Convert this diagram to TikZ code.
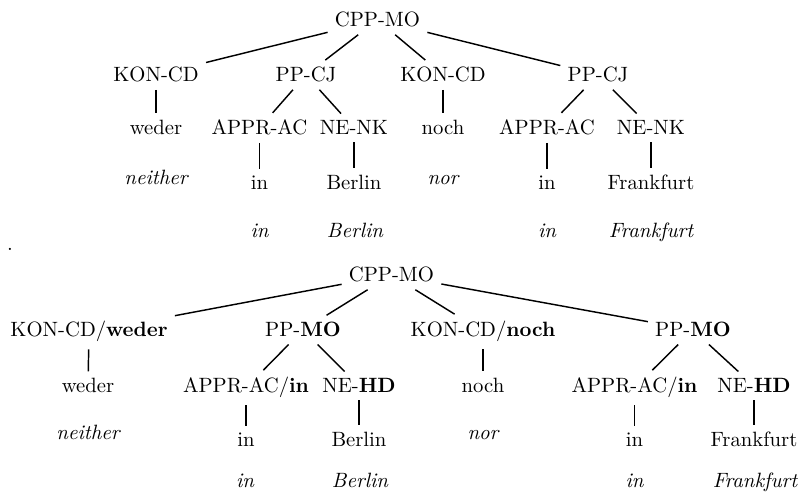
\documentclass[tikz,border=0pt]{standalone}
\begin{document}
\begin{tikzpicture}[x=0.483pt,y=-0.483pt,
  lbl/.style={anchor=base, inner sep=3.33pt},
  gl/.style={anchor=base, inner sep=3.33pt, font=\itshape},
  edge/.style={line width=0.7pt}]
\useasboundingbox (0,0) rectangle (799,496);
% ---------- top tree ----------
\node[lbl] (r) at (377.5,27) {CPP-MO};
\node[lbl] (k1) at (156,82) {KON-CD};
\node[lbl] (p1) at (306,82) {PP-CJ};
\node[lbl] (k2) at (443,82) {KON-CD};
\node[lbl] (p2) at (598,82) {PP-CJ};
\node[lbl] (w) at (156,135) {weder};
\node[lbl] (a1) at (259.5,135) {APPR-AC};
\node[lbl] (n1) at (354,135) {NE-NK};
\node[lbl] (no) at (443,135) {noch};
\node[lbl] (a2) at (547,135) {APPR-AC};
\node[lbl] (n2) at (651,135) {NE-NK};
\node[gl] (gw) at (156,185) {neither};
\node[lbl] (i1) at (259.5,190) {in};
\node[lbl] (b1) at (354,190) {Berlin};
\node[gl] (gn) at (443,185) {nor};
\node[lbl] (i2) at (547,190) {in};
\node[lbl] (f2) at (651,190) {Frankfurt};
\node[gl] (gi1) at (259.5,238) {in};
\node[gl] (gb1) at (355,238) {Berlin};
\node[gl] (gi2) at (547,238) {in};
\node[gl] (gf2) at (651,238) {Frankfurt};
\foreach \a/\b in {r/k1,r/p1,r/k2,r/p2,k1/w,p1/a1,p1/n1,k2/no,p2/a2,p2/n2,a1/i1,n1/b1,a2/i2,n2/f2}
  \draw[edge] (\a) -- (\b);
% separator dot
\node[lbl] (dot) at (10,251) {.};
% ---------- bottom tree ----------
\node[lbl] (R) at (391.5,282) {CPP-MO};
\node[lbl] (K1) at (89,337) {KON-CD/\textbf{weder}};
\node[lbl] (P1) at (303,337) {PP-\textbf{MO}};
\node[lbl] (K2) at (483,337) {KON-CD/\textbf{noch}};
\node[lbl] (P2) at (693,337) {PP-\textbf{MO}};
\node[lbl] (W) at (88,393) {weder};
\node[lbl] (A1) at (246,393) {APPR-AC/\textbf{in}};
\node[lbl] (N1) at (359,393) {NE-\textbf{HD}};
\node[lbl] (NO) at (483,393) {noch};
\node[lbl] (A2) at (634.5,393) {APPR-AC/\textbf{in}};
\node[lbl] (N2) at (754,393) {NE-\textbf{HD}};
\node[gl] (GW) at (88,440) {neither};
\node[lbl] (I1) at (246,447) {in};
\node[lbl] (B1) at (359,447) {Berlin};
\node[gl] (GN) at (483,440) {nor};
\node[lbl] (I2) at (634.5,447) {in};
\node[lbl] (F2) at (754,447) {Frankfurt};
\node[gl] (GI1) at (245,488) {in};
\node[gl] (GB1) at (360,488) {Berlin};
\node[gl] (GI2) at (634.5,488) {in};
\node[gl] (GF2) at (755,488) {Frankfurt};
\foreach \a/\b in {R/K1,R/P1,R/K2,R/P2,K1/W,P1/A1,P1/N1,K2/NO,P2/A2,P2/N2,A1/I1,N1/B1,A2/I2,N2/F2}
  \draw[edge] (\a) -- (\b);
\end{tikzpicture}
\end{document}
